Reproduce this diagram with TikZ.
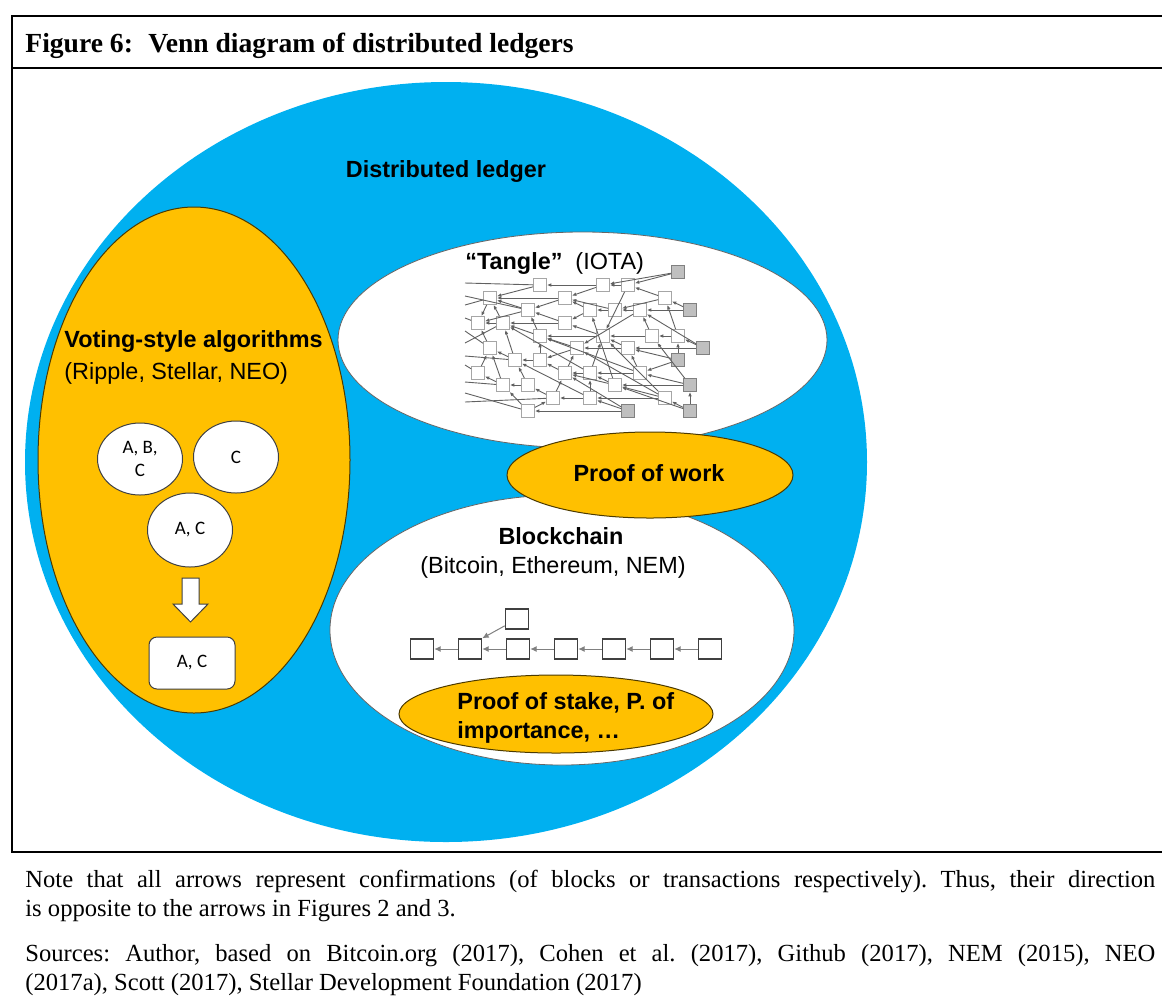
\documentclass[tikz,border=0pt]{standalone}
\usepackage{fontspec}
\setmainfont{Liberation Serif}
\setsansfont{Liberation Sans}
\newfontfamily\calibri{Carlito}
\usetikzlibrary{arrows.meta,positioning,shapes.geometric}
\definecolor{ledgerblue}{HTML}{00B0F0}
\definecolor{voteorange}{HTML}{FFC000}

\begin{document}
\begin{tikzpicture}[x=0.5pt,y=-0.5pt,
  lab/.style={inner sep=0pt, font=\sffamily\fontsize{11.7}{14.5}\selectfont},
  labb/.style={inner sep=0pt, font=\sffamily\bfseries\fontsize{11.7}{14.5}\selectfont},
  vcirc/.style={ellipse, draw=black!75, fill=white, line width=0.5pt, minimum width=42.5pt, minimum height=36pt, inner sep=0pt, align=center, font=\calibri\fontsize{9.5}{11.5}\selectfont},
  tsq/.style={rectangle, draw=black!35, fill=white, line width=0.4pt, minimum size=6.5pt, inner sep=0pt},
  tsqg/.style={tsq, draw=black!50, fill=black!25},
  tedge/.style={draw=black!62, line width=0.45pt, -{Latex[length=2.2pt,width=1.8pt]}},
  blk/.style={rectangle, draw=black!75, fill=white, line width=0.75pt, minimum width=11.5pt, minimum height=10pt, inner sep=0pt},
  bedge/.style={draw=black!50, line width=0.5pt, -{Latex[length=3.2pt,width=3pt]}},
  notes/.style={anchor=north west, inner sep=0pt, text width=565pt, align=justify, font=\frenchspacing\fontsize{12.3}{14.5}\selectfont}]
\useasboundingbox (0,0) rectangle (1162,998);

\draw[line width=1.1pt] (1162,16) -- (12,16) -- (12,852) -- (1162,852);
\draw[line width=1.1pt] (12,68) -- (1162,68);
\node[anchor=base west, inner sep=0pt, font=\bfseries\fontsize{13.8}{16}\selectfont] (fignum) at (25,52) {Figure 6:};
\node[anchor=base west, inner sep=0pt, font=\bfseries\fontsize{13.8}{16}\selectfont] (figtitle) at (148,52) {Venn diagram of distributed ledgers};

\fill[ledgerblue] (446,462) ellipse [x radius=421, y radius=380];
\draw[fill=voteorange, draw=black!70!voteorange, line width=0.5pt] (194,460) ellipse [x radius=156, y radius=253];
\draw[fill=white, draw=black!60, line width=0.4pt] (582.5,340) ellipse [x radius=244.5, y radius=108];
\draw[fill=white, draw=black!60, line width=0.4pt] (562,630) ellipse [x radius=232, y radius=135];
\draw[fill=voteorange, draw=black!70!voteorange, line width=0.5pt] (650,475) ellipse [x radius=143, y radius=43];
\draw[fill=voteorange, draw=black!70!voteorange, line width=0.5pt] (556,714) ellipse [x radius=157, y radius=39];

\node[labb] (ledger) at (446,171) {Distributed ledger};

% voting
\node[labb, anchor=west] (voting) at (64,341) {Voting-style algorithms};
\node[lab, anchor=west] (votingex) at (64,373) {(Ripple, Stellar, NEO)};
\node[vcirc] (abc) at (140,459) {A, B,\\C};
\node[vcirc] (c) at (236,457) {C};
\node[vcirc, minimum height=37pt] (ac) at (190,530) {A, C};
\draw[fill=white, draw=black!75, line width=0.5pt] (182,578) -- (199,578) -- (199,604) -- (208,604) -- (190.5,622) -- (173,604) -- (182,604) -- cycle;
\node[rectangle, rounded corners=4pt, draw=black!75, fill=white, line width=0.5pt, minimum width=43pt, minimum height=26pt, font=\calibri\fontsize{9.5}{11.5}\selectfont] (acres) at (192,663) {A, C};

% tangle
\node[lab, anchor=west] (tangle) at (465,263) {\bfseries “Tangle”\mdseries\ \ (IOTA)};
\foreach \n/\x/\y in {1/540/285, 2/603/285, 3/628/285, 5/490/298, 6/565/298, 7/665/298,
  8/528/310, 9/590/310, 10/615/310, 11/640/310, 13/478/323, 14/503/323, 15/565/323,
  16/540/336, 17/603/336, 18/652/336, 19/678/336, 21/490/348, 22/577/348, 23/628/348,
  24/515/360, 25/540/360, 27/478/373, 28/565/373, 29/590/373, 30/640/373,
  31/503/385, 32/528/385, 33/615/385, 35/553/398, 36/590/398, 37/665/398, 38/528/411}
  \node[tsq] (t\n) at (\x,\y) {};
\foreach \n/\x/\y in {4/678/272, 12/690/310, 20/703/348, 26/678/360, 34/690/385, 39/628/411, 40/690/411}
  \node[tsqg] (t\n) at (\x,\y) {};
\foreach \n/\y in {1/283, 2/296, 3/305, 4/318, 5/331, 6/343, 7/356, 8/365, 9/382, 10/393, 11/402}
  \coordinate (l\n) at (465,\y);
\foreach \a/\b in {4/2, 4/3, 3/2, 3/17, 2/1, 2/6, 1/5, 7/3, 7/10, 6/5, 6/8, 5/13,
  12/7, 12/11, 11/10, 11/22, 10/9, 10/6, 9/15, 9/6, 8/5, 8/13, 14/13, 14/5,
  15/8, 15/14, 16/14, 16/8, 17/15, 17/16, 18/11, 18/17, 19/18, 19/7, 20/19, 20/23,
  21/13, 22/16, 22/25, 23/17, 23/22, 24/21, 24/14, 25/24, 25/16, 26/23, 26/30,
  27/21, 28/25, 28/22, 29/28, 29/17, 30/29, 30/23, 31/27, 31/21, 32/31, 32/24,
  33/29, 33/28, 34/30, 34/33, 35/32, 35/28, 36/35, 36/29, 37/33, 37/36,
  38/31, 38/35, 39/36, 39/38, 40/37, 40/34, 30/16, 37/22, 29/14,
  36/24, 39/28, 40/33, 34/18, 20/11, 37/17, 33/9, 26/19}
  \draw[tedge] (t\a) -- (t\b);
\foreach \a/\b in {1/1, 8/2, 5/3, 13/4, 21/5, 14/6, 24/7, 27/8, 31/9, 38/10, 35/11}
  \draw[draw=black!62, line width=0.45pt] (t\a) -- (l\b);

\node[labb] (pow) at (649,473) {Proof of work};

% blockchain
\node[labb] (chain) at (561,536) {Blockchain};
\node[lab] (chainex) at (553,567) {(Bitcoin, Ethereum, NEM)};
\foreach \i in {1,...,7}
  \node[blk] (b\i) at ({422+48*(\i-1)},649) {};
\node[blk] (orphan) at (517,619) {};
\foreach \i [evaluate=\i as \j using int(\i-1)] in {2,...,7}
  \draw[bedge] (b\i) -- (b\j);
\draw[bedge] (orphan) -- (b2.north east);
\node[labb, anchor=west, align=left] (pos) at (457,718) {Proof of stake, P. of\\importance, …};

% notes
\node[notes] (note) at (25,870)
  {Note that all arrows represent confirmations (of blocks or transactions respectively). Thus, their direction\linebreak is opposite to the arrows in Figures 2 and 3.};
\node[notes] (sources) at (25,944)
  {Sources: Author, based on Bitcoin.org (2017), Cohen et al. (2017), Github (2017), NEM (2015), NEO\linebreak (2017a), Scott (2017), Stellar Development Foundation (2017)};
\end{tikzpicture}
\end{document}
